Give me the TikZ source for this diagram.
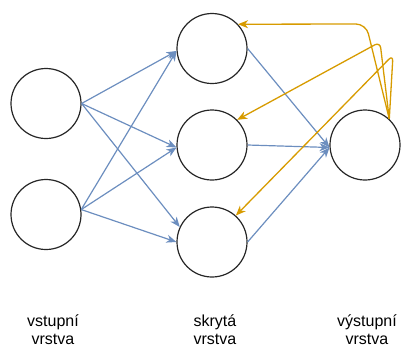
\documentclass[tikz,border=0pt]{standalone}
\usepackage{fontspec}
\setmainfont{Liberation Sans}
\usetikzlibrary{arrows.meta}
\definecolor{bluel}{HTML}{6C8EBF}
\definecolor{orangel}{HTML}{D79B00}
\tikzset{
  neuron/.style={circle,draw=black!85,line width=1.2pt,minimum size=70pt,inner sep=0pt},
  bluearrow/.style={draw=bluel,line width=1.2pt,-{Stealth[length=10pt,width=8pt,inset=3pt]}},
  orangearrow/.style={draw=orangel,line width=1.3pt,rounded corners=10pt,-{Stealth[length=10pt,width=8pt,inset=3pt]}},
  layerlabel/.style={align=center,anchor=north,inner sep=0pt,font=\fontsize{16}{18}\selectfont}
}
\begin{document}
\begin{tikzpicture}[x=1pt,y=-1pt]
\useasboundingbox (0,0) rectangle (401,349);
\node[neuron] (in1) at (46,103.5) {};
\node[neuron] (in2) at (46,214.5) {};
\node[neuron] (h1) at (212,48.5) {};
\node[neuron] (h2) at (212,145) {};
\node[neuron] (h3) at (212,242) {};
\node[neuron] (out) at (365,145) {};
% input -> hidden
\draw[bluearrow] (in1.east) -- (h1.184);
\draw[bluearrow] (in1.east) -- (h2.184);
\draw[bluearrow] (in1.east) -- (h3.155);
\draw[bluearrow] (in2.8) -- (h1.184);
\draw[bluearrow] (in2.8) -- (h2.184);
\draw[bluearrow] (in2.8) -- (h3.west);
% hidden -> output
\draw[bluearrow] (h1.east) -- (out.184);
\draw[bluearrow] (h2.east) -- (out.184);
\draw[bluearrow] (h3.east) -- (out.184);
% feedback
\coordinate (c1) at (366,24);
\coordinate (c2) at (380,42);
\coordinate (c3) at (393,55);
\draw[orangearrow] (out.47) -- (c1) -- (h1.43);
\draw[orangearrow,rounded corners=6pt] (out.47) -- (c2) -- (h2.45);
\draw[orangearrow,rounded corners=6pt] (out.47) -- (c3) -- (h3.48);
% labels
\node[layerlabel] (l1) at (53,315) {vstupní\\vrstva};
\node[layerlabel] (l2) at (215,315) {skrytá\\vrstva};
\node[layerlabel] (l3) at (367,315) {výstupní\\vrstva};
\end{tikzpicture}
\end{document}
